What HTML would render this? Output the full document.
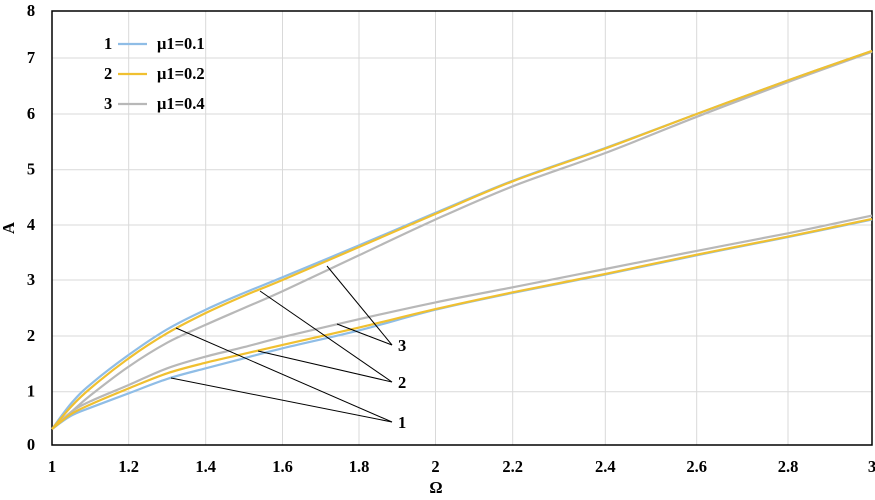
<!DOCTYPE html>
<html><head><meta charset="utf-8"><style>
body{margin:0;background:#fff;}
svg text{font-family:"Liberation Serif",serif;font-weight:bold;font-size:16.5px;fill:#000;}
</style></head><body>
<svg id="chart" width="875" height="495" viewBox="0 0 875 495">
<g id="grid"></g>
<g id="series"></g>
<g id="annot"></g>
<g id="labels"></g>
</svg>
<script>
const xTicks=[1,1.2,1.4,1.6,1.8,2,2.2,2.4,2.6,2.8,3];
const xTickLabels=["1","1.2","1.4","1.6","1.8","2","2.2","2.4","2.6","2.8","3"];
const yTicks=[0,1,2,3,4,5,6,7,8];
const omega=[1,1.05,1.1,1.2,1.3,1.4,1.5,1.6,1.8,2,2.2,2.4,2.6,2.8,3];
const upper1=[0.3,0.78,1.13,1.66,2.12,2.47,2.77,3.05,3.63,4.22,4.8,5.39,6.0,6.6,7.15];
const upper2=[0.3,0.72,1.06,1.6,2.05,2.41,2.72,3.0,3.6,4.2,4.79,5.38,6.0,6.6,7.15];
const upper3=[0.3,0.62,0.93,1.45,1.88,2.2,2.5,2.8,3.45,4.1,4.7,5.3,5.95,6.57,7.13];
const lower1=[0.3,0.55,0.7,0.97,1.23,1.42,1.6,1.78,2.1,2.47,2.77,3.1,3.45,3.78,4.1];
const lower2=[0.3,0.58,0.76,1.06,1.33,1.52,1.68,1.84,2.15,2.48,2.78,3.11,3.46,3.79,4.11];
const lower3=[0.3,0.62,0.82,1.12,1.42,1.63,1.8,1.98,2.3,2.6,2.87,3.2,3.53,3.85,4.17];
const legendLabels=["μ1=0.1","μ1=0.2","μ1=0.4"];
const colors=["#8fbde6","#f0c030","#b8b8b8"];
const xPix=[52,128.7,205.7,282.5,359,435.5,512.7,605.3,696.7,788,872];
const yPix=[445,391.7,336,280,225,169.7,114,58,11];
function interp(v,ts,ps){for(let i=0;i<ts.length-1;i++){if(v<=ts[i+1]||i===ts.length-2){return ps[i]+(v-ts[i])/(ts[i+1]-ts[i])*(ps[i+1]-ps[i]);}}}
const X=v=>interp(v,xTicks,xPix), Y=v=>interp(v,yTicks,yPix);
const NS="http://www.w3.org/2000/svg";
function mk(t,a,p){const e=document.createElementNS(NS,t);for(const k in a)e.setAttribute(k,a[k]);p.appendChild(e);return e;}
function smooth(pts){let d='M'+pts[0][0].toFixed(1)+','+pts[0][1].toFixed(1);
 for(let i=0;i<pts.length-1;i++){const p0=pts[Math.max(0,i-1)],p1=pts[i],p2=pts[i+1],p3=pts[Math.min(pts.length-1,i+2)];
  const c1=[p1[0]+(p2[0]-p0[0])/6,p1[1]+(p2[1]-p0[1])/6],c2=[p2[0]-(p3[0]-p1[0])/6,p2[1]-(p3[1]-p1[1])/6];
  d+=' C'+c1[0].toFixed(1)+','+c1[1].toFixed(1)+' '+c2[0].toFixed(1)+','+c2[1].toFixed(1)+' '+p2[0].toFixed(1)+','+p2[1].toFixed(1);}
 return d;}
const grid=document.getElementById('grid'),ser=document.getElementById('series'),lab=document.getElementById('labels'),an=document.getElementById('annot');
xTicks.forEach((t,i)=>{
 const l=mk('line',{x1:X(t),x2:X(t),y1:Y(8),y2:Y(0),stroke:'#d9d9d9','stroke-width':1},grid);
 
 
 const tx=mk('text',{x:X(t),y:472,'text-anchor':'middle'},lab);tx.textContent=xTickLabels[i];
 
 
});
yTicks.forEach(t=>{
 const l=mk('line',{x1:X(1),x2:X(3),y1:Y(t),y2:Y(t),stroke:'#d9d9d9','stroke-width':1},grid);
 
 
 const tx=mk('text',{x:31,y:Y(t)+5,'text-anchor':'middle'},lab);tx.textContent=String(t);
 
 
});
const frame=mk('rect',{x:X(1),y:Y(8),width:X(3)-X(1),height:Y(0)-Y(8),fill:'none',stroke:'#000','stroke-width':1.5},grid);


const sets=[[upper3,lower3,2],[upper1,lower1,0],[upper2,lower2,1]];
sets.forEach(s=>{
 [s[0],s[1]].forEach((arr,j)=>{
  const pts=arr.map((v,i)=>[X(omega[i]),Y(v)]);
  const p=mk('path',{d:smooth(pts),fill:'none',stroke:colors[s[2]],'stroke-width':2.2,'stroke-linejoin':'round'},ser);
  
  
 });
});
const leaders=[[[176,328],[171,378],[392,422],"1"],[[260,291],[258,351],[392,382],"2"],[[327,266],[337,324],[392,345],"3"]];
leaders.forEach(L=>{
 [L[0],L[1]].forEach(a=>{
  const l=mk('line',{x1:a[0],y1:a[1],x2:L[2][0],y2:L[2][1],stroke:'#000','stroke-width':1},an);
  
  
 });
 const t=mk('text',{x:398,y:L[2][1]+6},an);t.textContent=L[3];
 
 
});
legendLabels.forEach((s,i)=>{
 const y=44+i*30;
 const g=mk('g',{},lab);
 
 
 const n=mk('text',{x:104,y:y+5},g);n.textContent=String(i+1);
 mk('line',{x1:118,x2:147,y1:y,y2:y,stroke:colors[i],'stroke-width':2.2},g);
 const t=mk('text',{x:157,y:y+5},g);t.textContent=s;
});
const ax=mk('text',{x:14,y:228,'text-anchor':'middle',transform:'rotate(-90 14 228)'},lab);ax.textContent='A';


const ox=mk('text',{x:436,y:493,'text-anchor':'middle'},lab);ox.textContent='Ω';


</script>
</body></html>
